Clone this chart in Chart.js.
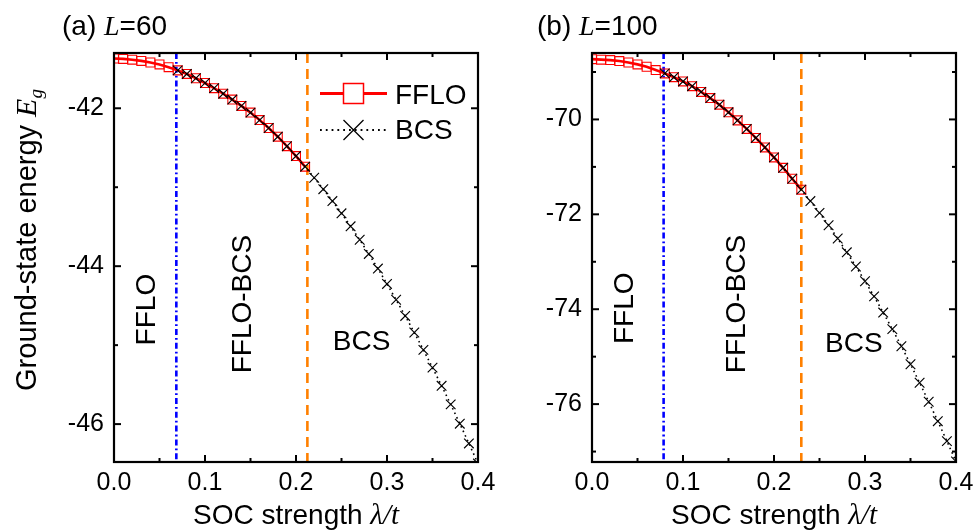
<!DOCTYPE html>
<html><head><meta charset="utf-8">
<script src="https://cdn.jsdelivr.net/npm/chart.js@4/dist/chart.umd.min.js"></script>
<style>
html,body{margin:0;padding:0;background:#fff;width:975px;height:532px;overflow:hidden}
#ca{position:absolute;left:0;top:0}
#cb{position:absolute;left:487px;top:0}
</style></head><body>
<canvas id="ca" width="512" height="532"></canvas>
<canvas id="cb" width="488" height="532"></canvas>
<script>
// ---------- data ----------
const lambdaFFLO_a = [0.00,0.01,0.02,0.03,0.04,0.05,0.06,0.07,0.08,0.09,0.10,0.11,0.12,0.13,0.14,0.15,0.16,0.17,0.18,0.19,0.20,0.21];
const energyFFLO_a = [-41.37,-41.375,-41.385,-41.40,-41.42,-41.445,-41.48,-41.52,-41.565,-41.62,-41.68,-41.745,-41.815,-41.89,-41.97,-42.055,-42.15,-42.25,-42.36,-42.48,-42.605,-42.74];
const lambdaBCS_a = [0.07,0.08,0.09,0.10,0.11,0.12,0.13,0.14,0.15,0.16,0.17,0.18,0.19,0.20,0.21,0.22,0.23,0.24,0.25,0.26,0.27,0.28,0.29,0.30,0.31,0.32,0.33,0.34,0.35,0.36,0.37,0.38,0.39,0.40];
const energyBCS_a = [-41.52,-41.565,-41.62,-41.68,-41.745,-41.815,-41.89,-41.97,-42.055,-42.15,-42.25,-42.36,-42.48,-42.605,-42.74,-42.88,-43.025,-43.175,-43.33,-43.495,-43.665,-43.845,-44.03,-44.225,-44.425,-44.63,-44.84,-45.06,-45.285,-45.515,-45.75,-45.995,-46.245,-46.50];

const lambdaFFLO_b = [0.00,0.01,0.02,0.03,0.04,0.05,0.06,0.07,0.08,0.09,0.10,0.11,0.12,0.13,0.14,0.15,0.16,0.17,0.18,0.19,0.20,0.21,0.22,0.23];
const energyFFLO_b = [-68.73,-68.74,-68.75,-68.77,-68.80,-68.84,-68.89,-68.96,-69.03,-69.11,-69.20,-69.30,-69.42,-69.55,-69.69,-69.85,-70.02,-70.20,-70.39,-70.59,-70.80,-71.02,-71.25,-71.48];
const lambdaBCS_b = [0.08,0.09,0.10,0.11,0.12,0.13,0.14,0.15,0.16,0.17,0.18,0.19,0.20,0.21,0.22,0.23,0.24,0.25,0.26,0.27,0.28,0.29,0.30,0.31,0.32,0.33,0.34,0.35,0.36,0.37,0.38,0.39,0.40];
const energyBCS_b = [-69.03,-69.11,-69.20,-69.30,-69.42,-69.55,-69.69,-69.85,-70.02,-70.20,-70.39,-70.59,-70.80,-71.02,-71.25,-71.48,-71.72,-71.97,-72.23,-72.51,-72.80,-73.10,-73.41,-73.73,-74.07,-74.42,-74.78,-75.16,-75.55,-75.95,-76.36,-76.78,-77.21];

const phaseBoundaries_a = [0.0685, 0.2125];
const phaseBoundaries_b = [0.0787, 0.2300];

const xTicks = [0.0, 0.1, 0.2, 0.3, 0.4];
const yTicks_a = [-42, -44, -46];
const yTicks_b = [-70, -72, -74, -76];
const xRange = [0, 0.4];
const yRange_a = [-46.48, -41.30];
const yRange_b = [-77.22, -68.60];

const seriesNames = ['FFLO', 'BCS'];
const phaseNames = ['FFLO', 'FFLO-BCS', 'BCS'];
const panelTitles = [['(a) ', 'L', '=60'], ['(b) ', 'L', '=100']];
const xTitle = ['SOC strength ', 'λ/t'];
const yTitle = ['Ground-state energy ', 'E', 'g'];

// ---------- styling / layout ----------
const SANS = '"Liberation Sans", Arial, sans-serif';
const SERIF = '"Liberation Serif", "Times New Roman", serif';
const RED = '#ff0000', BLUE = '#0000ff', ORANGE = '#ff8000';

function pts(xs, ys) { return xs.map((x, i) => ({x: x, y: ys[i]})); }

function richText(ctx, segs, x, y, align, angle) {
  ctx.save();
  ctx.translate(x, y);
  if (angle) ctx.rotate(angle);
  let total = 0;
  segs.forEach(s => { ctx.font = s.font; s.w = ctx.measureText(s.t).width; total += s.w; });
  let cx = align === 'center' ? -total / 2 : (align === 'right' ? -total : 0);
  ctx.textAlign = 'left'; ctx.textBaseline = 'alphabetic'; ctx.fillStyle = '#000';
  segs.forEach(s => { ctx.font = s.font; ctx.fillText(s.t, cx, s.dy || 0); cx += s.w; });
  ctx.restore();
}

function makeChart(canvasId, P) {
  const decor = {
    id: 'decor',
    afterDraw(chart) {
      const ctx = chart.ctx;
      const {left, right, top, bottom} = chart.chartArea;
      const xs = chart.scales.x, ys = chart.scales.y;
      ctx.save();
      ctx.strokeStyle = '#000';
      ctx.lineWidth = 2;
      ctx.lineCap = 'butt';
      const line = (a, b, c, d) => { ctx.beginPath(); ctx.moveTo(a, b); ctx.lineTo(c, d); ctx.stroke(); };
      xTicks.forEach((v, i) => {
        const px = xs.getPixelForValue(v);
        line(px, bottom, px, bottom - 7); line(px, top, px, top + 7);
        if (i < xTicks.length - 1) {
          const m = xs.getPixelForValue((v + xTicks[i + 1]) / 2);
          line(m, bottom, m, bottom - 4); line(m, top, m, top + 4);
        }
      });
      const yt = P.yTicks, step = yt[1] - yt[0];
      const minors = [yt[0] - step / 2];
      yt.forEach(v => minors.push(v + step / 2));
      yt.forEach(v => {
        const py = ys.getPixelForValue(v);
        line(left, py, left + 7, py); line(right, py, right - 7, py);
      });
      minors.forEach(v => {
        if (v < ys.min || v > ys.max) return;
        const py = ys.getPixelForValue(v);
        line(left, py, left + 4, py); line(right, py, right - 4, py);
      });
      ctx.lineWidth = 2.2;
      ctx.strokeRect(left, top, right - left, bottom - top);
      ctx.restore();

      const t = P.title;
      richText(ctx, [
        {t: t[0], font: '28px ' + SANS},
        {t: t[1], font: 'italic 28px ' + SERIF},
        {t: t[2], font: '28px ' + SANS}
      ], P.titleX, 35, 'left', 0);
      richText(ctx, [
        {t: xTitle[0], font: '28px ' + SANS},
        {t: xTitle[1], font: 'italic 29px ' + SERIF}
      ], (left + right) / 2, 524, 'center', 0);
      if (P.showYTitle) {
        richText(ctx, [
          {t: yTitle[0], font: '29px ' + SANS},
          {t: yTitle[1], font: 'italic 30px ' + SERIF},
          {t: yTitle[2], font: 'italic 19px ' + SERIF, dy: 6}
        ], 36, 240, 'center', -Math.PI / 2);
      }
      const cap = 0.716 * 28;
      P.phaseAt.forEach((pos, i) => {
        const px = xs.getPixelForValue(pos[0]), py = ys.getPixelForValue(pos[1]);
        if (pos[2]) richText(ctx, [{t: phaseNames[i], font: '28px ' + SANS}], px + cap / 2, py, 'center', -Math.PI / 2);
        else richText(ctx, [{t: phaseNames[i], font: '28px ' + SANS}], px, py + cap / 2, 'center', 0);
      });
      if (P.legend) {
        const L = P.legend;
        ctx.save();
        ctx.strokeStyle = RED; ctx.lineWidth = 2.8;
        ctx.beginPath(); ctx.moveTo(L.x0, L.y1); ctx.lineTo(L.x1, L.y1); ctx.stroke();
        ctx.lineWidth = 1.5;
        const cx = (L.x0 + L.x1) / 2;
        ctx.fillStyle = '#fff';
        ctx.fillRect(cx - 10, L.y1 - 10, 20, 20);
        ctx.strokeRect(cx - 10, L.y1 - 10, 20, 20);
        ctx.strokeStyle = '#000'; ctx.lineWidth = 1.8; ctx.setLineDash([1.8, 4]);
        ctx.beginPath(); ctx.moveTo(L.x0, L.y2); ctx.lineTo(L.x1, L.y2); ctx.stroke();
        ctx.setLineDash([]); ctx.lineWidth = 1.3;
        ctx.beginPath();
        ctx.moveTo(cx - 10, L.y2 - 10); ctx.lineTo(cx + 10, L.y2 + 10);
        ctx.moveTo(cx + 10, L.y2 - 10); ctx.lineTo(cx - 10, L.y2 + 10);
        ctx.stroke();
        ctx.restore();
        richText(ctx, [{t: seriesNames[0], font: '28px ' + SANS}], L.tx, L.y1 + 10, 'left', 0);
        richText(ctx, [{t: seriesNames[1], font: '28px ' + SANS}], L.tx, L.y2 + 9, 'left', 0);
      }
    }
  };

  const yr = P.yRange;
  return new Chart(document.getElementById(canvasId), {
    type: 'line',
    data: {
      datasets: [
        { label: seriesNames[1], data: pts(P.lBCS, P.eBCS), order: 0,
          borderColor: '#000', borderWidth: 1.6, borderDash: [1.6, 3.4],
          pointStyle: 'crossRot', pointRadius: 6.8, pointBorderWidth: 1.15,
          pointBorderColor: '#000', pointBackgroundColor: '#000', fill: false, tension: 0 },
        { label: seriesNames[0], data: pts(P.lFFLO, P.eFFLO), order: 1,
          borderColor: RED, borderWidth: 2.6,
          pointStyle: 'rect', pointRadius: 6.3, pointBorderWidth: 1.1,
          pointBorderColor: RED, pointBackgroundColor: 'rgba(0,0,0,0)', fill: false, tension: 0 },
        { label: 'b1', data: [{x: P.bounds[0], y: yr[1]}, {x: P.bounds[0], y: yr[0]}], order: 3,
          borderColor: BLUE, borderWidth: 2.6, borderDash: [6, 3, 1.8, 3], pointRadius: 0, fill: false },
        { label: 'b2', data: [{x: P.bounds[1], y: yr[1]}, {x: P.bounds[1], y: yr[0]}], order: 2,
          borderColor: ORANGE, borderWidth: 2.6, borderDash: [10, 6], pointRadius: 0, fill: false }
      ]
    },
    options: {
      responsive: false, devicePixelRatio: 1, animation: false, events: [],
      layout: { padding: { left: 0, right: P.padRight, top: 53, bottom: 0 } },
      plugins: { legend: { display: false }, tooltip: { enabled: false } },
      scales: {
        x: {
          type: 'linear', min: xRange[0], max: xRange[1],
          grid: { display: false, drawTicks: false }, border: { display: false },
          afterBuildTicks: s => { s.ticks = xTicks.map(v => ({value: v})); },
          afterFit: s => { s.height = 70; s.paddingLeft = 0; s.paddingRight = 0; },
          ticks: { color: '#000', font: { family: SANS, size: 25 }, padding: 6, maxRotation: 0, autoSkip: false,
                   callback: v => Number(v).toFixed(1) }
        },
        y: {
          type: 'linear', min: yr[0], max: yr[1],
          grid: { display: false, drawTicks: false }, border: { display: false },
          afterBuildTicks: s => { s.ticks = P.yTicks.map(v => ({value: v})); },
          afterFit: s => { s.width = P.yWidth; s.paddingTop = 0; s.paddingBottom = 0; },
          ticks: { color: '#000', font: { family: SANS, size: 25 }, padding: 10, autoSkip: false,
                   callback: v => String(v) }
        }
      }
    },
    plugins: [decor]
  });
}

makeChart('ca', {
  lFFLO: lambdaFFLO_a, eFFLO: energyFFLO_a, lBCS: lambdaBCS_a, eBCS: energyBCS_a,
  bounds: phaseBoundaries_a, yTicks: yTicks_a, yRange: yRange_a,
  yWidth: 114, padRight: 34, title: panelTitles[0], titleX: 62, showYTitle: true,
  phaseAt: [[0.0341, -44.55, true], [0.1396, -44.48, true], [0.272, -44.93, false]],
  legend: { x0: 320, x1: 387, y1: 93.5, y2: 130, tx: 395 }
});
makeChart('cb', {
  lFFLO: lambdaFFLO_b, eFFLO: energyFFLO_b, lBCS: lambdaBCS_b, eBCS: energyBCS_b,
  bounds: phaseBoundaries_b, yTicks: yTicks_b, yRange: yRange_b,
  yWidth: 105, padRight: 19, title: panelTitles[1], titleX: 50, showYTitle: false,
  phaseAt: [[0.0344, -73.98, true], [0.1575, -73.89, true], [0.2877, -74.70, false]],
  legend: null
});
</script>
</body></html>
